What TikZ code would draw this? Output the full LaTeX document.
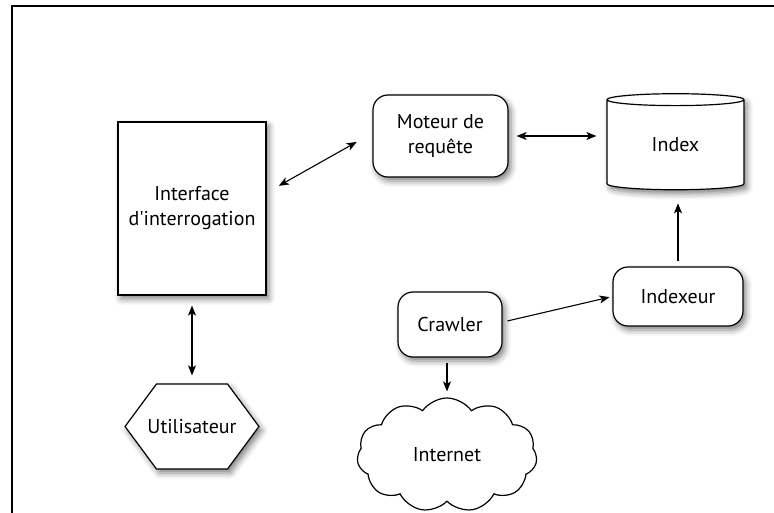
\documentclass[tikz,border=0pt]{standalone}
\usepackage{fontspec}
\setmainfont{PT Sans}
\usetikzlibrary{arrows.meta, positioning, shapes.geometric, shapes.symbols, shadows.blur}
\tikzset{%
	shade/.style={blur shadow={shadow xshift=3pt, shadow yshift=-4pt,%
		shadow blur radius=6pt, shadow opacity=50}},
	box/.style={draw, rectangle, line width=1.2pt, fill=white, align=center,%
		inner sep=0pt, shade},
	rbox/.style={box, rounded corners=15pt},
	store/.style={draw, cylinder, shape border rotate=90, aspect=0.25,%
		line width=1.2pt, fill=white, inner sep=0pt, shade},
	person/.style={draw, signal, signal to=west and east, signal pointer angle=107,%
		inner ysep=0pt, inner xsep=-9pt, line width=1.2pt, fill=white, shade},
	net/.style={draw, cloud, cloud puffs=11, cloud puff arc=110, aspect=1.8,%
		line width=1.2pt, fill=white, inner sep=0pt},
	both/.style={{Stealth[length=10pt, width=8pt, inset=2.5pt]}-{Stealth[length=10pt, width=8pt, inset=2.5pt]}, line width=1.1pt},
	flow/.style={-{Stealth[length=10pt, width=8pt, inset=2.5pt]}, line width=1.1pt},
	frame/.style={line width=2pt}
}

\begin{document}
\begin{tikzpicture}[x=1pt, y=-1pt, font=\fontsize{20}{25}\selectfont]
	\useasboundingbox (0,0) rectangle (774,512);
	\draw [frame] (790,5.5) -- (12,5.5) -- (12,530);

	\node [box, minimum width=148pt, minimum height=173pt] (iface) at (192,208.5) {Interface\\d\textquotesingle interrogation};
	\node [rbox, minimum width=135pt, minimum height=82pt] (engine) at (440.5,136) {Moteur de\\requête};
	\node [store, minimum width=137pt, minimum height=96pt] (index) at (675.5,145) {Index};
	\node [person, minimum height=85pt] (user) at (192,426.5) {Utilisateur};
	\node [rbox, minimum width=104pt, minimum height=65pt] (crawler) at (450,324.5) {Crawler};
	\node [rbox, minimum width=130pt, minimum height=59pt] (indexer) at (678,296.5) {Indexeur};
	\node [net, minimum width=180pt, minimum height=114pt] (web) at (447,455) {Internet};

	%query side
	\draw [both, shorten <=14pt, shorten >=18pt] ([yshift=15.8pt]iface.east) to ([yshift=2.9pt]engine.west);
	\draw [both, shorten <=8pt, shorten >=10pt] (engine.east) to (engine.east -| index.west);
	\draw [both, shorten <=10pt, shorten >=8pt] (iface.south) to (user.north);

	%crawl side
	\draw [flow, shorten <=5pt, shorten >=6pt] ([xshift=-3pt]crawler.south) to ([xshift=-3pt]crawler.south |- web.north);
	\draw [flow, shorten <=5pt, shorten >=3pt] ([yshift=2.4pt]crawler.east) to (indexer.west);
	\draw [flow, shorten <=5pt, shorten >=13pt] (indexer.north) to (indexer.north |- index.south);
\end{tikzpicture}
\end{document}
